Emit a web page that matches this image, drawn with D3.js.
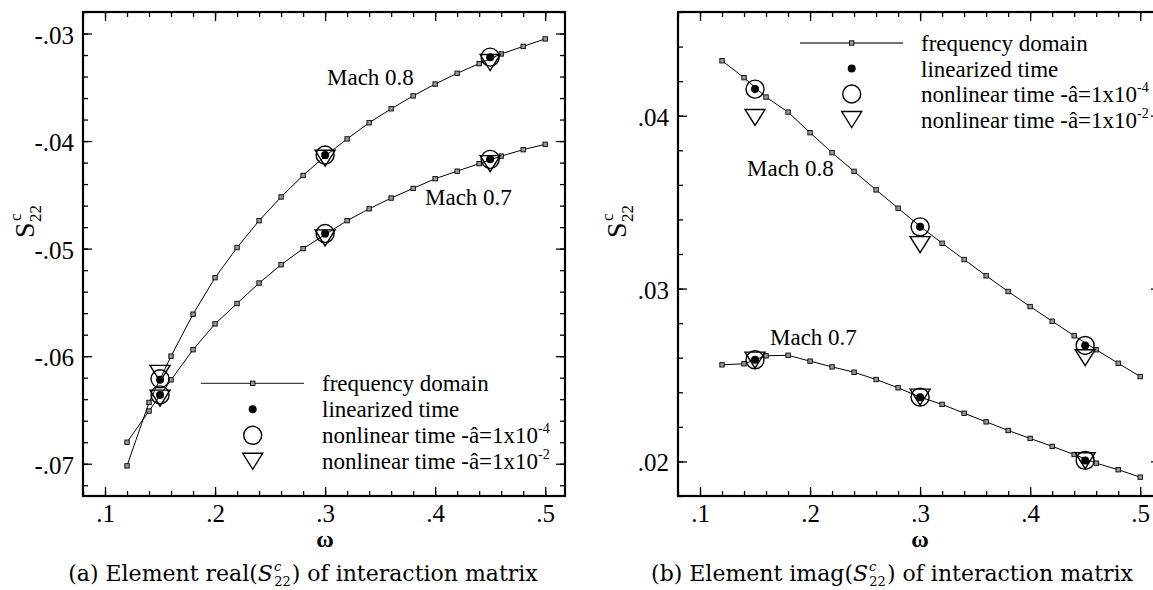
<!DOCTYPE html>
<html>
<head>
<meta charset="utf-8">
<script src="https://cdn.jsdelivr.net/npm/d3@7"></script>
<style>
  body { margin: 0; background: #fff; }
  svg text { font-family: "Liberation Serif", "Times New Roman", serif; fill: #000; }
  svg text.caption { font-family: "DejaVu Serif", serif; }
</style>
</head>
<body>
<svg id="chart" width="1153" height="590"></svg>
<script>
// Reduced frequency samples of the frequency-domain solution
const omega = [0.12, 0.14, 0.16, 0.18, 0.20, 0.22, 0.24, 0.26, 0.28, 0.30,
               0.32, 0.34, 0.36, 0.38, 0.40, 0.42, 0.44, 0.46, 0.48, 0.50];

// real(S22c), frequency domain
const realMach08 = [-0.0702, -0.0643, -0.0600, -0.0561, -0.0527, -0.0499, -0.0474, -0.0452, -0.0432, -0.0414,
                    -0.0398, -0.0383, -0.0370, -0.0358, -0.0347, -0.0337, -0.0328, -0.0319, -0.0312, -0.0305];
const realMach07 = [-0.0680, -0.0651, -0.0622, -0.0594, -0.0570, -0.0551, -0.0532, -0.0515, -0.0500, -0.0487,
                    -0.0474, -0.0463, -0.0453, -0.0444, -0.0435, -0.0428, -0.0421, -0.0414, -0.0408, -0.0403];

// imag(S22c), frequency domain
const imagMach08 = [0.04318, 0.04220, 0.04108, 0.04021, 0.03902, 0.03786, 0.03678, 0.03571, 0.03465, 0.03360,
                    0.03262, 0.03168, 0.03074, 0.02983, 0.02896, 0.02811, 0.02727, 0.02646, 0.02568, 0.02491];
const imagMach07 = [0.02559, 0.02565, 0.02611, 0.02614, 0.02580, 0.02547, 0.02516, 0.02474, 0.02426, 0.02372,
                    0.02330, 0.02279, 0.02229, 0.02179, 0.02133, 0.02087, 0.02040, 0.01990, 0.01952, 0.01909];

// Time-domain runs
const timeOmega = [0.15, 0.30, 0.45];
const realLinMach08 = [-0.0622, -0.0413, -0.0322];
const realNl4Mach08 = [-0.0621, -0.0413, -0.0322];
const realNl2Mach08 = [-0.0616, -0.0416, -0.0327];
const realLinMach07 = [-0.0636, -0.0486, -0.0417];
const realNl4Mach07 = [-0.0636, -0.0486, -0.0417];
const realNl2Mach07 = [-0.0639, -0.0490, -0.0421];
const imagLinMach08 = [0.04154, 0.03357, 0.02671];
const imagNl4Mach08 = [0.04154, 0.03357, 0.02671];
const imagNl2Mach08 = [0.03990, 0.03254, 0.02600];
const imagLinMach07 = [0.02588, 0.02372, 0.02006];
const imagNl4Mach07 = [0.02588, 0.02372, 0.02006];
const imagNl2Mach07 = [0.02586, 0.02372, 0.02004];

// Axis ticks
const xMajorTicks = [0.1, 0.2, 0.3, 0.4, 0.5];
const xTickLabels = [".1", ".2", ".3", ".4", ".5"];
const xMinorTicks = [0.08, 0.10, 0.12, 0.14, 0.16, 0.18, 0.20, 0.22, 0.24, 0.26, 0.28, 0.30,
                     0.32, 0.34, 0.36, 0.38, 0.40, 0.42, 0.44, 0.46, 0.48, 0.50];
const realYMajor = [-0.07, -0.06, -0.05, -0.04, -0.03];
const realYLabels = ["-.07", "-.06", "-.05", "-.04", "-.03"];
const realYMinor = [-0.072, -0.070, -0.068, -0.066, -0.064, -0.062, -0.060, -0.058, -0.056, -0.054,
                    -0.052, -0.050, -0.048, -0.046, -0.044, -0.042, -0.040, -0.038, -0.036, -0.034,
                    -0.032, -0.030, -0.028];
const imagYMajor = [0.02, 0.03, 0.04];
const imagYLabels = [".02", ".03", ".04"];
const imagYMinor = [0.018, 0.020, 0.022, 0.024, 0.026, 0.028, 0.030, 0.032, 0.034, 0.036,
                    0.038, 0.040, 0.042, 0.044, 0.046];

const legendLabels = ["frequency domain", "linearized time", "nonlinear time -â=1x10", "nonlinear time -â=1x10"];
const legendExponents = ["", "", "-4", "-2"];
const machLabels = ["Mach 0.8", "Mach 0.7"];

const svg = d3.select("#chart");

const panels = [
  {
    x0: 83, x1: 565, y0: 12, y1: 496,
    yDomain: [-0.073, -0.028], yMajor: realYMajor, yLabels: realYLabels, yMinor: realYMinor,
    curves: [realMach08, realMach07],
    lin: [realLinMach08, realLinMach07], nl4: [realNl4Mach08, realNl4Mach07], nl2: [realNl2Mach08, realNl2Mach07],
    machPos: [[327, 85], [425, 205]],
    legend: { x: 252.7, xl0: 201, xl1: 304, y: 383.3, dy: 26, tx: 322 },
    yLabelPos: [34, 238],
    caption: { x: 303, part: "real", tag: "(a)" }
  },
  {
    x0: 678, x1: 1160, y0: 12, y1: 496,
    yDomain: [0.018, 0.046], yMajor: imagYMajor, yLabels: imagYLabels, yMinor: imagYMinor,
    curves: [imagMach08, imagMach07],
    lin: [imagLinMach08, imagLinMach07], nl4: [imagNl4Mach08, imagNl4Mach07], nl2: [imagNl2Mach08, imagNl2Mach07],
    machPos: [[747, 176], [770, 345]],
    legend: { x: 851.7, xl0: 800, xl1: 903, y: 43, dy: 25.5, tx: 921 },
    yLabelPos: [626, 238],
    caption: { x: 892, part: "imag", tag: "(b)" }
  }
];

// Downward-pointing triangle, centred on its bounding box
const triW = 20, triH = 16;
function triPath(cx, cy) {
  return `M${cx - triW / 2},${cy - triH / 2}L${cx + triW / 2},${cy - triH / 2}L${cx},${cy + triH / 2}Z`;
}

panels.forEach(p => {
  const x = d3.scaleLinear().domain([0.08, 0.518]).range([p.x0, p.x1]);
  const y = d3.scaleLinear().domain(p.yDomain).range([p.y1, p.y0]);
  const g = svg.append("g");

  // axes: ticks point inward on all four sides
  const fmtX = d => xTickLabels[xMajorTicks.indexOf(d)];
  const fmtY = d => p.yLabels[p.yMajor.indexOf(d)];
  g.append("g").attr("transform", `translate(0,${p.y1})`)
    .call(d3.axisBottom(x).tickValues(xMinorTicks).tickSize(-5).tickFormat(""));
  const bMaj = g.append("g").attr("transform", `translate(0,${p.y1})`)
    .call(d3.axisBottom(x).tickValues(xMajorTicks).tickSize(-9).tickPadding(0).tickFormat(fmtX));
  g.append("g").attr("transform", `translate(0,${p.y0})`)
    .call(d3.axisTop(x).tickValues(xMinorTicks).tickSize(-5).tickFormat(""));
  g.append("g").attr("transform", `translate(0,${p.y0})`)
    .call(d3.axisTop(x).tickValues(xMajorTicks).tickSize(-9).tickFormat(""));
  g.append("g").attr("transform", `translate(${p.x0},0)`)
    .call(d3.axisLeft(y).tickValues(p.yMinor).tickSize(-5).tickFormat(""));
  const lMaj = g.append("g").attr("transform", `translate(${p.x0},0)`)
    .call(d3.axisLeft(y).tickValues(p.yMajor).tickSize(-9).tickPadding(0).tickFormat(fmtY));
  g.append("g").attr("transform", `translate(${p.x1},0)`)
    .call(d3.axisRight(y).tickValues(p.yMinor).tickSize(-5).tickFormat(""));
  g.append("g").attr("transform", `translate(${p.x1},0)`)
    .call(d3.axisRight(y).tickValues(p.yMajor).tickSize(-9).tickFormat(""));
  g.selectAll(".domain").remove();
  g.selectAll(".tick line").attr("stroke", "#000").attr("stroke-width", 1.3);

  bMaj.selectAll(".tick text")
    .attr("y", 0).attr("dy", 0).attr("transform", "translate(0,26)")
    .style("font-family", "'Liberation Serif', serif").style("font-size", "25px");
  lMaj.selectAll(".tick text")
    .attr("x", 0).attr("dy", 0).attr("text-anchor", "end")
    .attr("transform", "translate(-9,9.5)")
    .style("font-family", "'Liberation Serif', serif").style("font-size", "25px");

  // frame
  g.append("rect")
    .attr("x", p.x0).attr("y", p.y0).attr("width", p.x1 - p.x0).attr("height", p.y1 - p.y0)
    .attr("fill", "none").attr("stroke", "#000").attr("stroke-width", 2.2);

  // frequency-domain curves with small square symbols
  const line = d3.line().x((d, i) => x(omega[i])).y(d => y(d));
  p.curves.forEach(vals => {
    g.append("path").datum(vals).attr("d", line)
      .attr("fill", "none").attr("stroke", "#000").attr("stroke-width", 1);
    g.selectAll(null).data(vals).enter().append("rect")
      .attr("x", (d, i) => x(omega[i]) - 2.2).attr("y", d => y(d) - 2.2)
      .attr("width", 4.4).attr("height", 4.4)
      .attr("fill", "#999").attr("stroke", "#000").attr("stroke-width", 0.9);
  });

  // time-domain results
  [0, 1].forEach(k => {
    g.selectAll(null).data(p.nl4[k]).enter().append("circle")
      .attr("cx", (d, i) => x(timeOmega[i])).attr("cy", d => y(d)).attr("r", 9)
      .attr("fill", "none").attr("stroke", "#000").attr("stroke-width", 1.4);
    g.selectAll(null).data(p.nl2[k]).enter().append("path")
      .attr("d", (d, i) => triPath(x(timeOmega[i]), y(d)))
      .attr("fill", "none").attr("stroke", "#000").attr("stroke-width", 1.4);
    g.selectAll(null).data(p.lin[k]).enter().append("circle")
      .attr("cx", (d, i) => x(timeOmega[i])).attr("cy", d => y(d)).attr("r", 4)
      .attr("fill", "#000");
  });

  // Mach labels
  machLabels.forEach((t, k) => {
    g.append("text").attr("x", p.machPos[k][0]).attr("y", p.machPos[k][1])
      .style("font-size", "23px").text(t);
  });

  // legend
  const L = p.legend;
  g.append("line").attr("x1", L.xl0).attr("x2", L.xl1).attr("y1", L.y).attr("y2", L.y)
    .attr("stroke", "#444").attr("stroke-width", 1.3);
  g.append("rect").attr("x", L.x - 2.2).attr("y", L.y - 2.2).attr("width", 4.4).attr("height", 4.4)
    .attr("fill", "#999").attr("stroke", "#000").attr("stroke-width", 0.9);
  g.append("circle").attr("cx", L.x).attr("cy", L.y + L.dy).attr("r", 4).attr("fill", "#000");
  g.append("circle").attr("cx", L.x).attr("cy", L.y + 2 * L.dy).attr("r", 9)
    .attr("fill", "none").attr("stroke", "#000").attr("stroke-width", 1.4);
  g.append("path").attr("d", triPath(L.x, L.y + 3 * L.dy))
    .attr("fill", "none").attr("stroke", "#000").attr("stroke-width", 1.4);
  legendLabels.forEach((t, k) => {
    const tx = g.append("text").attr("x", L.tx).attr("y", L.y + k * L.dy + 8)
      .style("font-size", "23px").text(t);
    if (legendExponents[k]) {
      tx.append("tspan").attr("dy", -10).style("font-size", "14px").text(legendExponents[k]);
    }
  });

  // axis titles
  g.append("text").attr("x", (x(0.3))).attr("y", 547).attr("text-anchor", "middle")
    .style("font-size", "24px").style("font-weight", "bold").text("ω");
  const yl = g.append("g").attr("transform", `translate(${p.yLabelPos[0]},${p.yLabelPos[1]}) rotate(-90)`);
  yl.append("text").attr("x", 0).attr("y", 0).style("font-size", "28px").text("S");
  yl.append("text").attr("x", 17).attr("y", -13).style("font-size", "17px").text("c");
  yl.append("text").attr("x", 16).attr("y", 7).style("font-size", "17px").text("22");

  // caption: S with stacked superscript c and subscript 22
  const C = p.caption;
  const cap = svg.append("text").attr("class", "caption").attr("x", C.x).attr("y", 581)
    .attr("text-anchor", "middle").style("font-size", "22px").attr("fill", "#222");
  cap.append("tspan").text(`${C.tag} Element ${C.part}(`);
  cap.append("tspan").style("font-style", "italic").text("S");
  cap.append("tspan").attr("dy", -10).attr("dx", 1).style("font-size", "13px").style("font-style", "italic").text("c");
  cap.append("tspan").attr("dy", 15).attr("dx", -7).style("font-size", "13px").text("22");
  cap.append("tspan").attr("dy", -5).attr("dx", 1).text(") of interaction matrix");
});
</script>
</body>
</html>
